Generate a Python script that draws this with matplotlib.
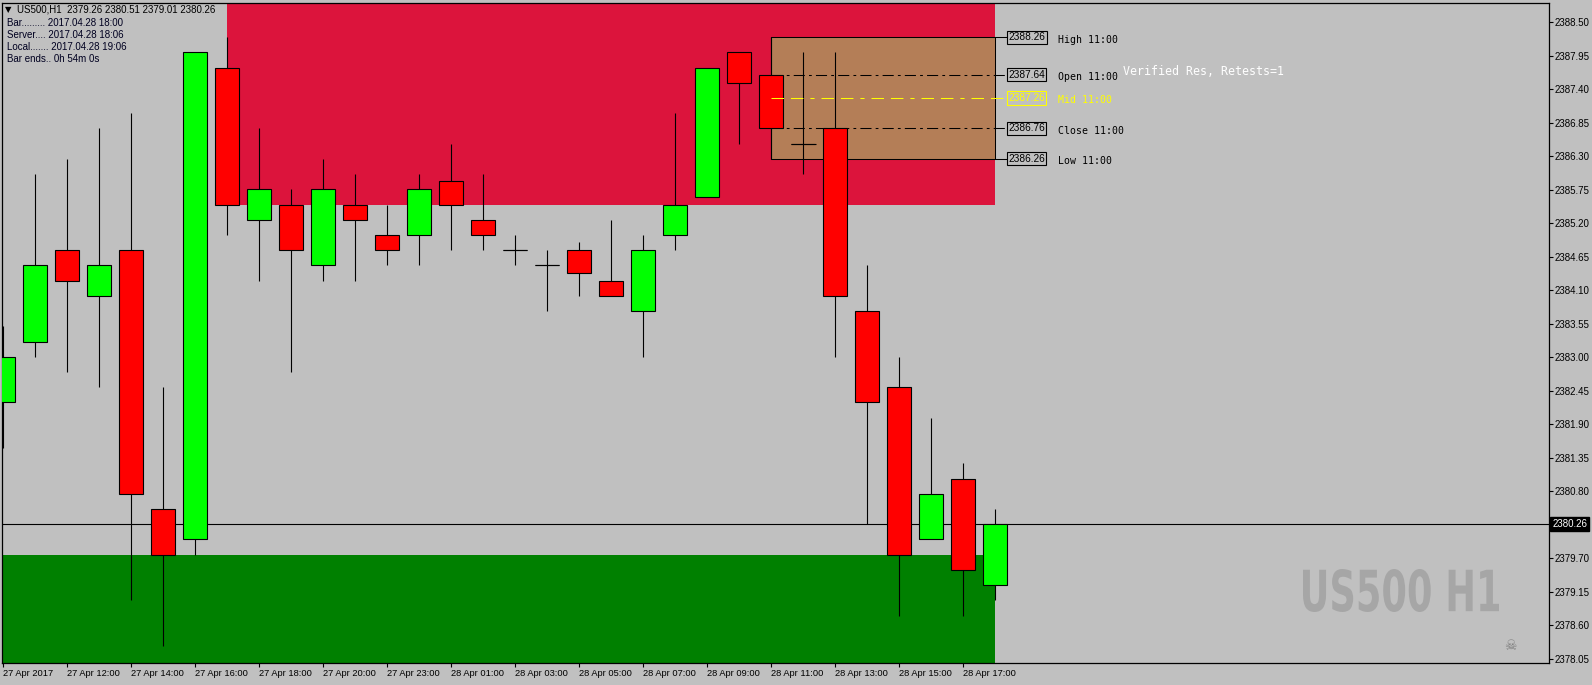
import numpy as np
import matplotlib.pyplot as plt
import matplotlib.transforms as mtransforms
from matplotlib.textpath import TextPath
from matplotlib.patches import PathPatch
from matplotlib.font_manager import FontProperties

plt.rcParams['lines.scale_dashes'] = False

# H1 bars, 27 Apr 10:00 -> 28 Apr 18:00 (no 22:00 bar)
opens  = [2382.26, 2383.26, 2384.76, 2384.01, 2384.76, 2380.51, 2380.01, 2387.76,
          2385.26, 2385.51, 2384.51, 2385.51, 2385.01, 2385.01, 2385.89, 2385.26,
          2384.76, 2384.51, 2384.76, 2384.26, 2383.76, 2385.01, 2385.64, 2388.01,
          2387.64, 2386.51, 2386.76, 2383.76, 2382.51, 2380.01, 2381.01, 2379.26]
highs  = [2383.51, 2386.01, 2386.26, 2386.76, 2387.01, 2382.51, 2388.01, 2388.26,
          2386.76, 2385.76, 2386.26, 2386.01, 2385.51, 2386.01, 2386.51, 2386.01,
          2385.01, 2384.76, 2384.89, 2385.26, 2385.01, 2387.01, 2387.76, 2388.01,
          2388.26, 2388.01, 2388.01, 2384.51, 2383.01, 2382.01, 2381.26, 2380.51]
lows   = [2381.51, 2383.01, 2382.76, 2382.51, 2379.01, 2378.26, 2379.76, 2385.01,
          2384.26, 2382.76, 2384.26, 2384.26, 2384.51, 2384.51, 2384.76, 2384.76,
          2384.51, 2383.76, 2384.01, 2384.01, 2383.01, 2384.76, 2385.64, 2386.51,
          2386.26, 2386.01, 2383.01, 2380.26, 2378.76, 2380.01, 2378.76, 2379.01]
closes = [2383.01, 2384.51, 2384.26, 2384.51, 2380.76, 2379.76, 2388.01, 2385.51,
          2385.76, 2384.76, 2385.76, 2385.26, 2384.76, 2385.76, 2385.51, 2385.01,
          2384.76, 2384.51, 2384.39, 2384.01, 2384.76, 2385.51, 2387.76, 2387.51,
          2386.76, 2386.51, 2384.01, 2382.26, 2379.76, 2380.76, 2379.51, 2380.26]

tick_bars = [0, 2, 4, 6, 8, 10, 12, 14, 16, 18, 20, 22, 24, 26, 28, 30]
tick_labels = ['27 Apr 2017', '27 Apr 12:00', '27 Apr 14:00', '27 Apr 16:00', '27 Apr 18:00',
               '27 Apr 20:00', '27 Apr 23:00', '28 Apr 01:00', '28 Apr 03:00', '28 Apr 05:00',
               '28 Apr 07:00', '28 Apr 09:00', '28 Apr 11:00', '28 Apr 13:00', '28 Apr 15:00',
               '28 Apr 17:00']
price_ticks = [2388.50, 2387.95, 2387.40, 2386.85, 2386.30, 2385.75, 2385.20, 2384.65, 2384.10,
               2383.55, 2383.00, 2382.45, 2381.90, 2381.35, 2380.80, 2379.70, 2379.15, 2378.60,
               2378.05]

res_start_bar = 7
res_zone = [2385.51, 2390.00]
sup_zone = [2376.00, 2379.76]

box_bar = 24
box_names = ['High 11:00', 'Open 11:00', 'Mid 11:00', 'Close 11:00', 'Low 11:00']
box_levels = [2388.26, 2387.64, 2387.26, 2386.76, 2386.26]
last_price = 2380.26

info = ['US500,H1  2379.26 2380.51 2379.01 2380.26',
        'Bar......... 2017.04.28 18:00',
        'Server.... 2017.04.28 18:06',
        'Local....... 2017.04.28 19:06',
        'Bar ends.. 0h 54m 0s']

o = np.array(opens); h = np.array(highs); l = np.array(lows); c = np.array(closes)
x = np.arange(len(o))
last = x[-1]

W, H = 1592, 685
fig = plt.figure(figsize=(W / 100, H / 100), dpi=100, facecolor='#C0C0C0')
ax = fig.add_axes([2 / W, 1 - 663 / H, 1547 / W, 660 / H], facecolor='#C0C0C0')
ax.set_xlim(-0.04, 48.3)
ax.set_ylim(2377.98, 2388.82)

# zones
ax.fill_between([res_start_bar, last], res_zone[0], res_zone[1], color='#DC143C', lw=0, zorder=0)
ax.fill_between([-1, last], sup_zone[0], sup_zone[1], color='#008000', lw=0, zorder=0)

# 11:00 box
ax.fill_between([box_bar, last], box_levels[4], box_levels[0], facecolor='#B47E57',
                edgecolor='black', lw=0.75, zorder=1)
lab_x = last + 0.34
for lv in (box_levels[0], box_levels[4]):
    ax.plot([last, lab_x], [lv, lv], color='black', lw=0.75, zorder=1.2)
for lv in (box_levels[1], box_levels[3]):
    ax.plot([box_bar, lab_x], [lv, lv], color='black', lw=0.75,
            ls=(0, (8, 3, 2, 3)), zorder=1.2)
ax.plot([box_bar, lab_x], [box_levels[2]] * 2, color='#FFFF00', lw=0.75,
        ls=(0, (9, 5, 9, 5, 3, 5)), zorder=4)

# last price line
ax.axhline(last_price, color='black', lw=0.8, zorder=1.8)

# candles
up = c >= o
ax.vlines(x, l, h, color='black', lw=0.8, zorder=2)
ax.bar(x, np.abs(c - o), bottom=np.minimum(o, c), width=0.75,
       color=np.where(up, '#00FF00', '#FF0000'), edgecolor='black', lw=0.8, zorder=3)
doji = o == c
ax.hlines(o[doji], x[doji] - 0.38, x[doji] + 0.38, color='black', lw=0.8, zorder=3)

# level labels
for name, lv in zip(box_names, box_levels):
    col = '#FFFF00' if name.startswith('Mid') else 'black'
    ax.text(lab_x + 0.06, lv, f'{lv:.2f}', fontsize=7.3, color=col, va='center', ha='left',
            family='Liberation Sans', zorder=5,
            bbox=dict(boxstyle='square,pad=0.15', fc='#C0C0C0', ec=col, lw=0.8))
    ax.text(last + 1.95, lv - 0.04, name, fontsize=7.1, color=col, va='center', ha='left',
            family='DejaVu Sans Mono', zorder=5)
ax.text(last + 4.0, 2387.69, 'Verified Res, Retests=1', fontsize=8.4, color='white',
        va='center', ha='left', family='DejaVu Sans Mono', zorder=5)

# axes styling
for sp in ax.spines.values():
    sp.set_color('black')
    sp.set_linewidth(0.9)
ax.yaxis.tick_right()
ax.set_yticks(price_ticks)
ax.set_yticklabels([f'{p:.2f}' for p in price_ticks], family='Liberation Sans')
ax.tick_params(axis='y', direction='out', length=3, width=0.8, pad=1, labelsize=7,
               colors='black')
ax.set_xticks(tick_bars)
ax.set_xticklabels(tick_labels, ha='left', family='Liberation Sans')
ax.tick_params(axis='x', direction='out', length=3, width=0.8, pad=1.5, labelsize=6.7,
               colors='black')

trans = mtransforms.blended_transform_factory(ax.transAxes, ax.transData)
ax.text(1.002, last_price, f'{last_price:.2f}', transform=trans, fontsize=7, color='white',
        family='Liberation Sans', va='center', ha='left',
        bbox=dict(boxstyle='square,pad=0.2', fc='black', ec='black'), clip_on=False)

# watermark, squeezed to a condensed look
tp = TextPath((0, 0), 'US500 H1', size=60, prop=FontProperties(family='DejaVu Sans', weight='bold'))
bb = tp.get_extents()
wm = (mtransforms.Affine2D().translate(-bb.x0, -bb.y0)
      .scale(196 / bb.width, 43 / bb.height).translate(1303, H - 612))
fig.add_artist(PathPatch(tp, transform=wm, fc='#A6A6A6', ec='none', zorder=0.5))

ax.text(0.975, 0.026, '\u2620', transform=ax.transAxes, fontsize=10, color='#808080',
        ha='center', va='center', family='DejaVu Sans')

# info block
fig.text(5 / W, 1 - 10 / H, '\u25BC', fontsize=6, color='black', va='center',
         family='DejaVu Sans')
fig.text(17 / W, 1 - 10 / H, info[0], fontsize=7.0, color='black', va='center',
         family='Liberation Sans')
for i, line in enumerate(info[1:]):
    fig.text(7 / W, 1 - (22.5 + 12.2 * i) / H, line, fontsize=7.0, color='#000020',
             va='center', family='Liberation Sans')

fig.savefig('out.png', dpi=100, facecolor=fig.get_facecolor())
